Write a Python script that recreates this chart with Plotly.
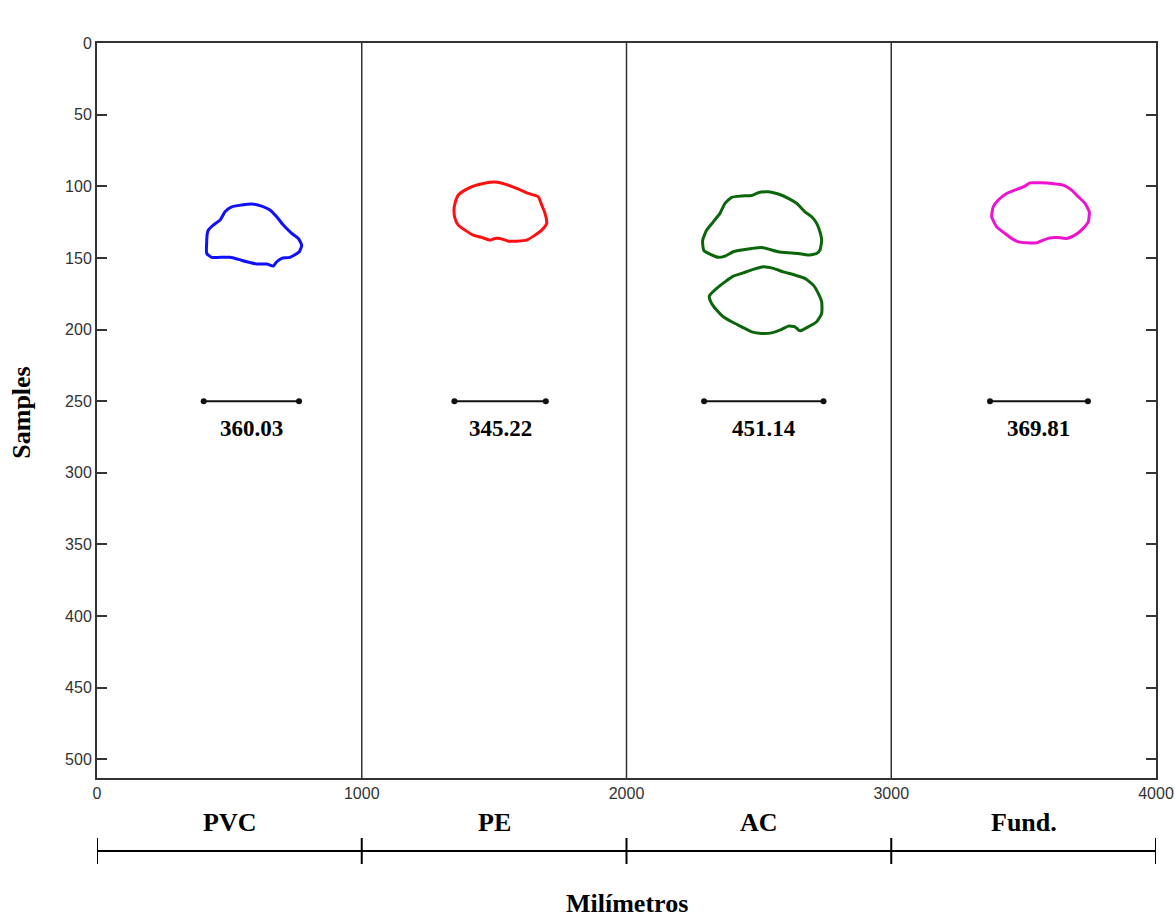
import plotly.graph_objects as go

# Pipe materials and the measured widths (mm)
materials = ["PVC", "PE", "AC", "Fund."]
section_edges = [0, 1000, 2000, 3000, 4000]
section_centers = [500, 1500, 2500, 3500]
widths = [360.03, 345.22, 451.14, 369.81]
bar_start = [403, 1350, 2293, 3373]
bar_depth = 250
label_depth = 269

# Hyperbola outlines traced on the radargram (x in mm, y in samples)
pvc_x = [420.4, 439.3, 464.6, 483.5, 508.8, 546.5, 584.3, 622.1, 653.4, 678.7, 703.7, 735.4,
         760.3, 773.2, 764.1, 729.0, 697.6, 678.7, 665.9, 641.0, 603.2, 565.4, 533.7, 502.4,
         464.6, 433.2, 414.3, 414.3, 416.6]
pvc_y = [130.6, 127.1, 123.6, 117.8, 114.3, 113.1, 112.4, 113.8, 116.6, 121.3, 127.1, 132.9,
         136.4, 141.1, 145.7, 149.6, 150.3, 152.7, 155.7, 154.3, 154.3, 152.7, 151.0, 149.6,
         149.6, 149.6, 146.9, 138.8, 132.9]

pe_x = [1352.2, 1364.7, 1390.0, 1421.3, 1459.1, 1503.3, 1541.1, 1585.2, 1629.1, 1666.8, 1679.7,
        1692.1, 1698.5, 1679.7, 1654.4, 1623.0, 1585.2, 1553.5, 1522.2, 1503.3, 1484.4, 1453.1,
        1421.3, 1390.0, 1364.7, 1352.2, 1348.4]
pe_y = [111.9, 106.1, 102.7, 99.9, 98.0, 97.1, 98.5, 101.5, 105.0, 107.3, 113.1,
        118.9, 125.9, 130.6, 134.1, 137.6, 138.3, 138.3, 136.4, 136.4, 137.6, 135.7,
        134.1, 130.6, 127.1, 122.4, 116.6]

ac_top_x = [2290.0, 2287.7, 2302.8, 2327.8, 2353.1, 2372.0, 2397.3, 2435.0, 2472.8, 2497.8,
            2535.5, 2573.3, 2611.1, 2642.8, 2674.1, 2699.4, 2718.3, 2730.8, 2737.2, 2730.8,
            2718.3, 2686.6, 2648.8, 2611.1, 2573.3, 2541.9, 2510.6, 2472.8, 2435.0, 2403.3,
            2372.0, 2346.7, 2315.3, 2292.6]
ac_top_y = [143.4, 137.6, 130.6, 124.8, 118.9, 111.9, 107.7, 106.8, 106.4, 104.5,
            103.8, 105.4, 108.4, 111.9, 117.8, 121.3, 125.9, 131.8, 137.6, 144.5,
            146.9, 148.0, 146.9, 146.4, 145.7, 144.1, 142.7, 143.4, 144.5, 145.7,
            148.7, 149.6, 147.3, 145.0]

ac_bottom_x = [2312.7, 2340.6, 2372.0, 2403.3, 2441.1, 2478.9, 2516.6, 2554.4, 2592.2, 2636.4,
               2674.1, 2705.5, 2724.4, 2737.2, 2737.2, 2718.3, 2686.6, 2655.3, 2636.4, 2611.1,
               2586.1, 2548.3, 2510.6, 2472.8, 2435.0, 2397.3, 2365.5, 2340.6, 2321.7]
ac_bottom_y = [176.7, 171.3, 166.7, 162.7, 160.4, 158.0, 156.2, 157.3, 159.7, 162.0,
               164.3, 169.0, 174.8, 180.7, 188.8, 194.6, 198.1, 200.9, 198.1, 197.6,
               199.9, 202.3, 202.7, 201.6, 198.1, 194.6, 191.1, 186.4, 181.8]

fund_x = [3379.3, 3385.3, 3404.2, 3435.9, 3473.7, 3505.1, 3523.9, 3561.7, 3605.9, 3649.7,
          3681.4, 3706.4, 3731.7, 3747.9, 3744.1, 3725.3, 3693.9, 3662.5, 3624.8, 3599.5,
          3574.2, 3549.2, 3511.5, 3479.8, 3454.8, 3429.5, 3398.2]
fund_y = [121.3, 114.3, 109.6, 105.0, 102.2, 99.9, 97.6, 97.6, 98.0, 99.2,
          102.7, 107.3, 111.9, 117.8, 124.8, 129.4, 134.1, 136.4, 135.7, 136.0,
          137.6, 139.5, 139.5, 138.8, 136.4, 132.9, 128.3]

outlines = [
    (pvc_x, pvc_y, "#1010ff"),
    (pe_x, pe_y, "#ff1010"),
    (ac_top_x, ac_top_y, "#0b650b"),
    (ac_bottom_x, ac_bottom_y, "#0b650b"),
    (fund_x, fund_y, "#f010d0"),
]

serif = "Liberation Serif"

fig = go.Figure()

for xs, ys, color in outlines:
    fig.add_trace(go.Scatter(
        x=xs + xs[:1], y=ys + ys[:1], mode="lines",
        line=dict(color=color, width=3, shape="spline", smoothing=0.5),
        hoverinfo="skip", showlegend=False,
    ))

# Width scale bars with their values
for x0, w in zip(bar_start, widths):
    fig.add_trace(go.Scatter(
        x=[x0, x0 + w], y=[bar_depth, bar_depth], mode="lines+markers",
        line=dict(color="#111111", width=2),
        marker=dict(color="#111111", size=6),
        hoverinfo="skip", showlegend=False,
    ))
    fig.add_annotation(
        x=x0 + w / 2, y=label_depth, xref="x", yref="y", text=f"<b>{w:.2f}</b>",
        showarrow=False, yanchor="middle",
        font=dict(family=serif, size=23, color="#000000"),
    )

# Section dividers inside the plot
for xe in section_edges[1:-1]:
    fig.add_shape(type="line", xref="x", yref="paper", x0=xe, x1=xe, y0=0, y1=1,
                  line=dict(color="#333333", width=1.5))

# Bracket below the axis marking each section
fig.add_shape(type="line", xref="x", yref="paper", x0=section_edges[0], x1=section_edges[-1],
              y0=-0.0993, y1=-0.0993, line=dict(color="#000000", width=2))
for xe in section_edges:
    fig.add_shape(type="line", xref="x", yref="paper", x0=xe, x1=xe,
                  y0=-0.0816, y1=-0.117, line=dict(color="#000000", width=2))

for name, xc in zip(materials, section_centers):
    fig.add_annotation(
        x=xc, y=-0.0599, xref="x", yref="paper", text=f"<b>{name}</b>",
        showarrow=False, xanchor="center", yanchor="middle",
        font=dict(family=serif, size=26, color="#000000"),
    )

fig.add_annotation(
    x=0.5, y=-0.171, xref="paper", yref="paper", text="<b>Milímetros</b>",
    showarrow=False, xanchor="center", yanchor="middle",
    font=dict(family=serif, size=26, color="#000000"),
)
fig.add_annotation(
    x=-0.0708, y=0.497, xref="paper", yref="paper", text="<b>Samples</b>", textangle=-90,
    showarrow=False, xanchor="center", yanchor="middle",
    font=dict(family=serif, size=26, color="#000000"),
)

fig.update_layout(
    width=1175, height=920,
    margin=dict(l=97, r=19, t=43, b=142, autoexpand=False),
    paper_bgcolor="#ffffff", plot_bgcolor="#ffffff",
    showlegend=False,
)
fig.update_xaxes(
    range=[0, 4000], tickvals=section_edges, ticks="", automargin=False,
    showline=True, mirror=True, linecolor="#333333", linewidth=2,
    showgrid=False, zeroline=False,
    tickfont=dict(family="Liberation Sans", size=16, color="#333333"),
)
fig.update_yaxes(
    range=[513, 0], tickvals=list(range(0, 501, 50)), automargin=False,
    ticks="inside", ticklen=10, tickwidth=2, tickcolor="#333333",
    showline=True, mirror="ticks", linecolor="#333333", linewidth=2,
    showgrid=False, zeroline=False,
    tickfont=dict(family="Liberation Sans", size=16, color="#333333"),
)

fig.write_html("out.html")
